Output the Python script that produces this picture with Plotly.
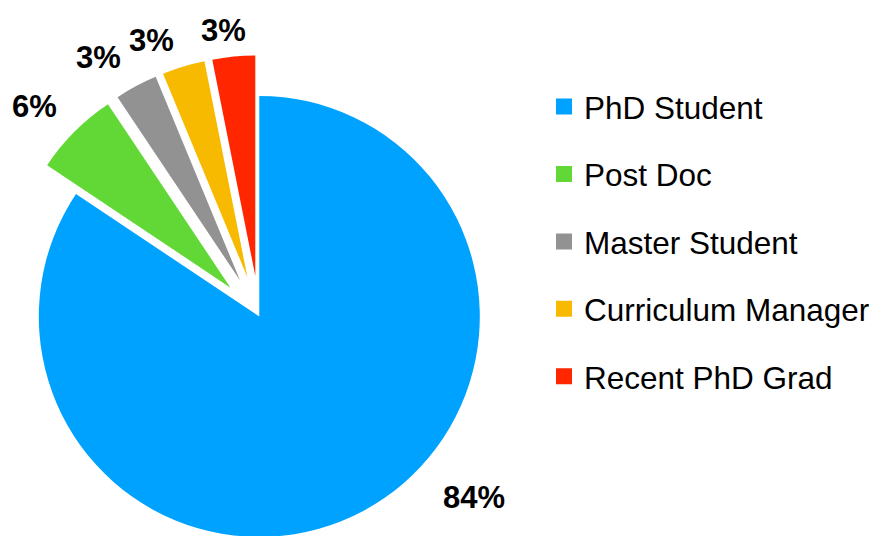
import math
import plotly.graph_objects as go

# ---- data ----
categories = ["PhD Student", "Post Doc", "Master Student", "Curriculum Manager", "Recent PhD Grad"]
counts = [27, 2, 1, 1, 1]
colors = ["#00A2FF", "#61D836", "#929292", "#F8BA00", "#FF2600"]
pulled = [False, True, True, True, True]

# ---- layout (page pixels) ----
W, H = 879, 536
OFF = 8  # page body margin
CX, CY, R = 259.3 - OFF, 316.5 - OFF, 220.5
PULL = 0.185
FONT = "Liberation Sans, Arial, sans-serif"
# label positions (page px) for each category's percentage label
label_pos = [(474, 496), (34, 106), (98, 57), (151, 40), (223, 30)]

total = sum(counts)
pct = [round(100 * v / total) for v in counts]
labels_txt = [f"{p}%" for p in pct]


def clamp(v):
    return min(1.0, max(0.0, v))


def domain(cx, cy, r):
    return dict(
        x=[clamp((cx - r) / W), clamp((cx + r) / W)],
        y=[clamp(1 - (cy + r) / H), clamp(1 - (cy - r) / H)],
    )


fig = go.Figure()

# mid angles (clockwise from 12 o'clock)
cum = 0.0
mids = []
for v in counts:
    start = cum
    cum += v
    mids.append(360.0 * (start + cum) / 2 / total)

for i, name in enumerate(categories):
    if pulled[i]:
        d = PULL * R
        m = math.radians(mids[i])
        cx = CX + d * math.sin(m)
        cy = CY - d * math.cos(m)
    else:
        cx, cy = CX, CY
    fig.add_trace(go.Pie(
        labels=categories,
        values=counts,
        sort=False,
        direction="clockwise",
        rotation=0,
        marker=dict(colors=[colors[j] if j == i else "rgba(0,0,0,0)" for j in range(len(categories))],
                    line=dict(width=0)),
        textinfo="none",
        domain=domain(cx, cy, R),
        showlegend=False,
        hoverinfo="skip",
    ))

# percentage labels
for i, txt in enumerate(labels_txt):
    px, py = label_pos[i]
    fig.add_annotation(
        x=(px - OFF) / W, y=1 - (py - OFF + 1) / H, xref="paper", yref="paper",
        xanchor="center", yanchor="middle",
        text=txt, showarrow=False,
        font=dict(family=FONT, size=31, color="black", weight="bold"),
    )

# legend entries
for i, name in enumerate(categories):
    fig.add_trace(go.Scatter(
        x=[None], y=[None], mode="markers", name=name,
        marker=dict(symbol="square", size=16, color=colors[i]),
        legendgroup=f"g{i}", showlegend=True,
    ))

fig.update_layout(
    width=W, height=H,
    margin=dict(l=0, r=0, t=0, b=0),
    paper_bgcolor="white", plot_bgcolor="white",
    xaxis=dict(visible=False), yaxis=dict(visible=False),
    legend=dict(
        x=536 / W, y=1 - 71.5 / H, xanchor="left", yanchor="top",
        font=dict(family=FONT, size=31.5, color="black"),
        tracegroupgap=23.5, bgcolor="rgba(0,0,0,0)",
    ),
)

fig.write_html("out.html")
